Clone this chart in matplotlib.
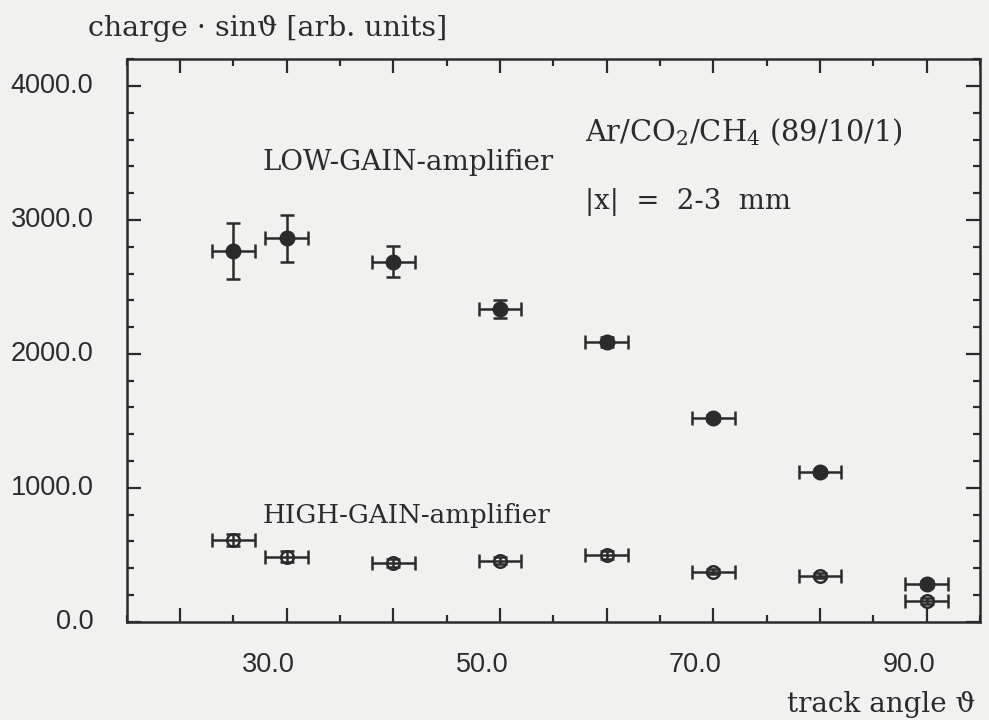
import matplotlib
matplotlib.use("Agg")
import matplotlib.pyplot as plt
from matplotlib.ticker import MultipleLocator

# ---- data ----
angles = [25, 30, 40, 50, 60, 70, 80, 90]
angle_err = [2, 2, 2, 2, 2, 2, 2, 2]
low_gain = [2768, 2863, 2689, 2335, 2091, 1521, 1116, 282]
low_gain_err = [210, 175, 114, 67, 37, 25, 20, 20]
high_gain = [610, 485, 441, 456, 498, 373, 344, 155]
high_gain_err = [45, 40, 30, 25, 30, 20, 20, 20]
xtick_labels = ["30.0", "50.0", "70.0", "90.0"]
xtick_vals = [30, 50, 70, 90]
ytick_vals = [0, 1000, 2000, 3000, 4000]
ytick_labels = ["0.0", "1000.0", "2000.0", "3000.0", "4000.0"]

W, H = 989, 720
bg = "#f1f1ef"
ink = "#2b2b2b"
plt.rcParams['mathtext.fontset'] = 'dejavuserif'

fig = plt.figure(figsize=(W / 100, H / 100), dpi=100, facecolor=bg)
ax = fig.add_axes([126.7 / W, 1 - 621.7 / H, (980 - 126.7) / W, (621.7 - 59.3) / H])
ax.set_facecolor(bg)

ax.errorbar(angles, low_gain, xerr=angle_err, yerr=low_gain_err, fmt='o',
            color=ink, mfc=ink, mec=ink, ms=10.5, elinewidth=1.8, capsize=5.2,
            capthick=1.8)
ax.errorbar(angles, high_gain, xerr=angle_err, yerr=high_gain_err, fmt='o',
            color=ink, mfc='none', mec=ink, ms=9, mew=1.8, elinewidth=1.8,
            capsize=5.0, capthick=1.8)

ax.set_xlim(15, 95)
ax.set_ylim(0, 4200)

ax.xaxis.set_major_locator(MultipleLocator(10))
ax.xaxis.set_minor_locator(MultipleLocator(5))
ax.yaxis.set_major_locator(MultipleLocator(1000))
ax.yaxis.set_minor_locator(MultipleLocator(200))
ax.set_xticklabels([])
ax.set_yticklabels([])
ax.tick_params(which='both', direction='in', top=True, right=True, color=ink,
               width=1.6, labelleft=False, labelbottom=False)
ax.tick_params(which='major', length=10)
ax.tick_params(which='minor', length=5)
for s in ax.spines.values():
    s.set_linewidth(1.8)
    s.set_color(ink)

tick_font = dict(family='Liberation Sans', fontsize=19.5, color=ink)
for v, lab in zip(xtick_vals, xtick_labels):
    ax.annotate(lab, xy=(v, 0), xycoords=('data', 'axes fraction'),
                xytext=(-13, -31), textcoords='offset points',
                ha='center', va='center', **tick_font)
for v, lab in zip(ytick_vals, ytick_labels):
    ax.annotate(lab, xy=(0, v), xycoords=('axes fraction', 'data'),
                xytext=(-24, 0), textcoords='offset points',
                ha='right', va='center', **tick_font)

serif = ['DejaVu Serif', 'DejaVu Sans']


def ftext(x, y, s, size=20, **kw):
    fig.text(x / W, 1 - y / H, s, family=serif, fontsize=size, color=ink,
             ha='left', va='center', **kw)


ftext(88, 28, "charge \u00b7 sin\u03d1 [arb. units]", 20.5)
ftext(263, 162, "LOW-GAIN-amplifier", 20)
ftext(262, 515, "HIGH-GAIN-amplifier", 18.8)
ftext(585, 132, r"Ar/CO$_2$/CH$_4$ (89/10/1)", 20.8)
ftext(585, 202, "|x|  =  2-3  mm", 19.8)
ftext(787, 705, "track angle \u03d1", 20)

fig.savefig("out.png", dpi=100, facecolor=bg)
